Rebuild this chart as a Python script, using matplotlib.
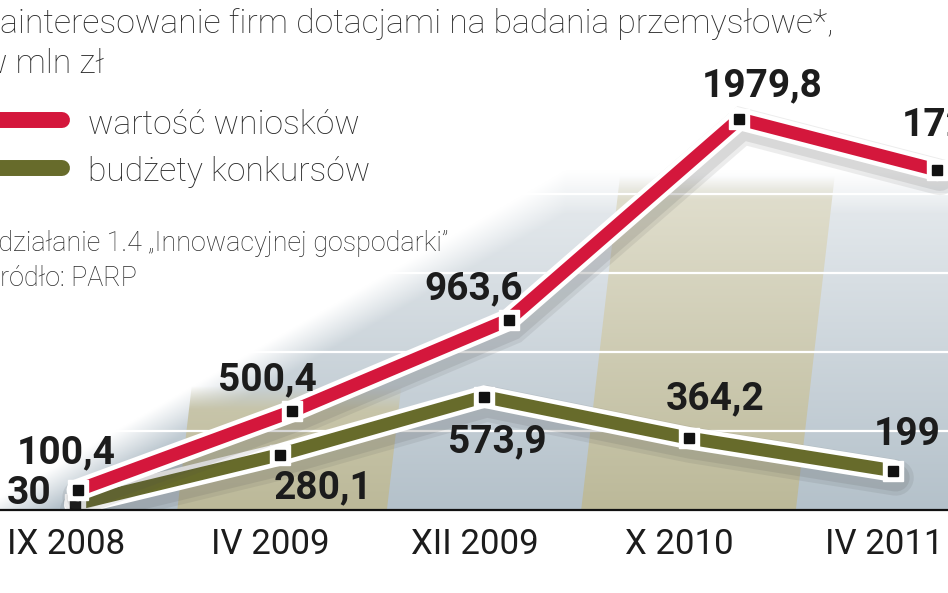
import numpy as np
import matplotlib
matplotlib.use("Agg")
import matplotlib.pyplot as plt
import matplotlib.patheffects as pe
from matplotlib.lines import Line2D
from matplotlib.patches import Polygon
from matplotlib.transforms import Affine2D, ScaledTranslation

# ---------------- data ----------------
categories = ["IX 2008", "IV 2009", "XII 2009", "X 2010", "IV 2011"]
wnioski = [100.4, 500.4, 963.6, 1979.8, 1720.7]     # wartość wniosków
budzety = [30, 280.1, 573.9, 364.2, 199]            # budżety konkursów

title_lines = ["Zainteresowanie firm dotacjami na badania przemysłowe*,", "w mln zł"]
legend_labels = ["wartość wniosków", "budżety konkursów"]
footnote = "*działanie 1.4 „Innowacyjnej gospodarki”"
source = "Źródło: PARP"

# ---------------- style ----------------
RED = "#d4173c"
OLIVE = "#676b2b"
TXT = "#1c1c1c"
W, H = 948, 593
DPI = 100
FONT = ["Roboto", "DejaVu Sans"]

fig = plt.figure(figsize=(W / DPI, H / DPI), dpi=DPI)
fig.patch.set_facecolor("white")

base_px = 83  # baseline height from bottom in px
ax = fig.add_axes([0, base_px / H, 1, (H - base_px) / H])
ax.patch.set_alpha(0)
XL = (-0.367, 4.269)
YL = (0, 2582)
ax.set_xlim(*XL)
ax.set_ylim(*YL)
for s in ["top", "left", "right"]:
    ax.spines[s].set_visible(False)
ax.spines["bottom"].set_color("#111111")
ax.spines["bottom"].set_linewidth(1.6)
ax.spines["bottom"].set_zorder(6)
ax.set_yticks([])

x = np.arange(len(categories))

# ---------------- background ----------------
nx, ny = 474, 255
gx = np.linspace(XL[0], XL[1], nx)
gy = np.linspace(YL[1], YL[0], ny)
GX, GY = np.meshgrid(gx, gy)
t = np.clip(GY / 1700.0, 0, 1)
bottom_c = np.array([180, 193, 202]) / 255
top_c = np.array([232, 236, 239]) / 255
rgb = bottom_c[None, None, :] * (1 - t[..., None]) + top_c[None, None, :] * t[..., None]
# fade towards white in the upper-left
top_edge = np.clip(60 + (GX - XL[0]) * 600, 0, 1720)
alpha = np.clip((top_edge - GY) / 220.0, 0, 1)
rgba = np.dstack([rgb, alpha])
ax.imshow(rgba, extent=(XL[0], XL[1], YL[0], YL[1]), aspect="auto",
          interpolation="bilinear", zorder=0)

# alternating column bands (decoration)
band_c_bot = np.array([188, 185, 153]) / 255
band_c_top = np.array([226, 224, 208]) / 255
for cx, top_val, lft in [(1, 625, -0.50), (3, 1690, -0.525)]:
    slant = 0.19 * top_val / 1690
    poly = Polygon([(cx + lft, 0), (cx + 0.525, 0),
                    (cx + 0.525 + slant, top_val), (cx + lft + slant, top_val)],
                   closed=True, transform=ax.transData, facecolor="none", edgecolor="none")
    ax.add_patch(poly)
    tb = np.clip(GY / 1700.0, 0, 1)
    brgb = band_c_bot[None, None, :] * (1 - tb[..., None]) + band_c_top[None, None, :] * tb[..., None]
    balpha = np.clip((top_val - GY) / 120.0, 0, 1)
    im = ax.imshow(np.dstack([brgb, balpha]), extent=(XL[0], XL[1], YL[0], YL[1]),
                   aspect="auto", interpolation="bilinear", zorder=0.5)
    im.set_clip_path(poly)

# gridlines
for gv in [400, 800, 1200, 1600]:
    ax.axhline(gv, color="white", lw=1.6, zorder=1)

# ---------------- lines ----------------
# perspective shear for the upper (red) series
shear = (Affine2D().translate(0, -base_px).skew(np.arctan(0.13), 0)
         .translate(0, base_px))
red_trans = ax.transData + shear
green_trans = ax.transData

def draw_series(vals, color, trans, z):
    shadow = [pe.SimpleLineShadow(offset=(2, -5), shadow_color="#4a4a4a", alpha=0.10, linewidth=26),
              pe.SimpleLineShadow(offset=(2, -5), shadow_color="#4a4a4a", alpha=0.12, linewidth=20),
              pe.Normal()]
    ax.plot(x, vals, color="white", lw=16, solid_capstyle="round", solid_joinstyle="miter",
            transform=trans, zorder=z, path_effects=shadow)
    ax.plot(x, vals, color=color, lw=9.4, solid_capstyle="butt", solid_joinstyle="miter",
            transform=trans, zorder=z + 0.1)
    ax.plot(x, vals, ls="none", marker="s", ms=14, mfc="white", mec="white",
            transform=trans, zorder=z + 0.2)
    ax.plot(x, vals, ls="none", marker="s", ms=7.4, mfc="#111111", mec="#111111",
            transform=trans, zorder=z + 0.3)

draw_series(budzety, OLIVE, green_trans, 3)
draw_series(wnioski, RED, red_trans, 4)

def fmt(v):
    s = f"{v:.1f}" if abs(v - round(v)) > 1e-9 else f"{int(round(v))}"
    return s.replace(".", ",")

red_offsets = [(-11, 37), (-25, 31), (-35, 31), (23, 33), (25, 45)]
green_offsets = [(-46, 11), (44, -33), (13, -45), (27, 39), (14, 36)]
for xi, v, off in zip(x, wnioski, red_offsets):
    ax.annotate(fmt(v), (xi, v), xycoords=red_trans, xytext=off, textcoords="offset pixels",
                ha="center", va="center", fontsize=28, fontweight="bold", family=FONT,
                color=TXT, zorder=8, annotation_clip=False)
for xi, v, off in zip(x, budzety, green_offsets):
    ax.annotate(fmt(v), (xi, v), xycoords=green_trans, xytext=off, textcoords="offset pixels",
                ha="center", va="center", fontsize=28, fontweight="bold", family=FONT,
                color=TXT, zorder=8, annotation_clip=False)

# ---------------- x axis ----------------
ax.set_xticks(x)
ax.set_xticklabels(categories, fontsize=25, family=FONT, color=TXT)
ax.tick_params(axis="x", length=0, pad=13)
for lab in ax.get_xticklabels():
    lab.set_transform(lab.get_transform() + ScaledTranslation(-9 / DPI, 0, fig.dpi_scale_trans))

# ---------------- texts ----------------
def fx(px):
    return px / W

def fy(py_top):
    return 1 - py_top / H

fig.text(fx(-20), fy(33), title_lines[0], fontsize=24.3, family=FONT, color="#2a2a2a",
         fontweight="light", va="baseline", ha="left")
fig.text(fx(-18), fy(73), title_lines[1], fontsize=24.3, family=FONT, color="#2a2a2a",
         fontweight="light", va="baseline", ha="left")

for (col, yc, yb, lab) in [(RED, 120, 134, legend_labels[0]), (OLIVE, 168, 181, legend_labels[1])]:
    fig.add_artist(Line2D([fx(-30), fx(62)], [fy(yc), fy(yc)], color=col, lw=11.5,
                          solid_capstyle="round", transform=fig.transFigure))
    fig.text(fx(88), fy(yb), lab, fontsize=24.2, family=FONT, color="#2a2a2a",
             fontweight="light", va="baseline", ha="left")

fig.text(fx(-13), fy(251), footnote, fontsize=19.4, family=FONT, color="#2a2a2a",
         fontweight="light", va="baseline", ha="left")
fig.text(fx(-16), fy(286), source, fontsize=19.4, family=FONT, color="#2a2a2a",
         fontweight="light", va="baseline", ha="left")

fig.savefig("out.png", dpi=DPI, facecolor="white")
